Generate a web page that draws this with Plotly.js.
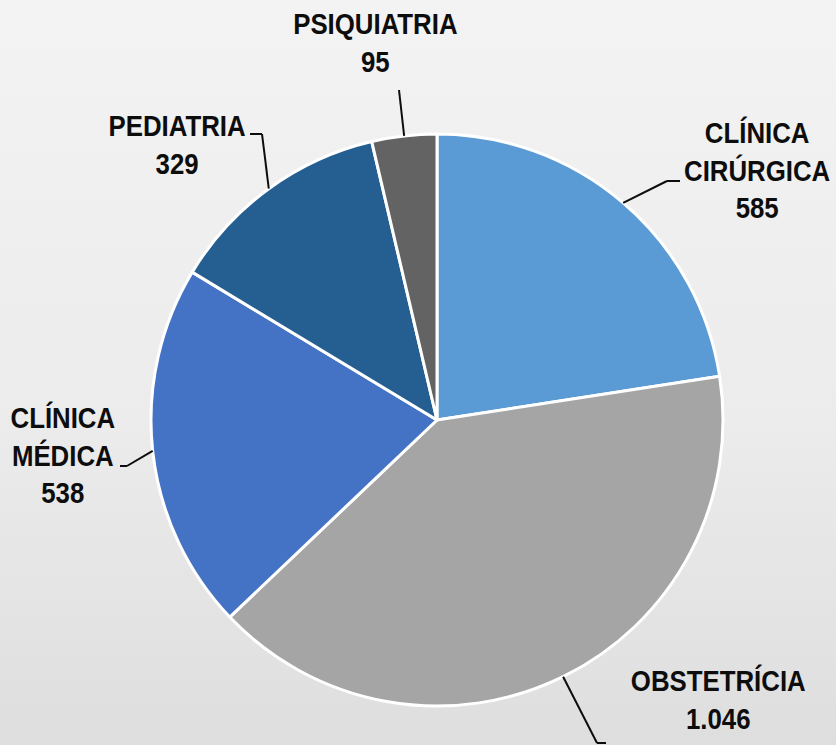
<!DOCTYPE html>
<html>
<head>
<meta charset="utf-8">
<script src="https://cdn.plot.ly/plotly-3.0.1.min.js"></script>
<style>
html,body{margin:0;padding:0;}
#chart{width:836px;height:745px;background:linear-gradient(to bottom,#f3f3f3 0%,#ececec 55%,#dedede 100%);}
</style>
</head>
<body>
<div id="chart"></div>
<script>
// Data
const categories = ["CLÍNICA CIRÚRGICA", "OBSTETRÍCIA", "CLÍNICA MÉDICA", "PEDIATRIA", "PSIQUIATRIA"];
const labelTexts = ["CLÍNICA<br>CIRÚRGICA<br>585", "OBSTETRÍCIA<br>1.046", "CLÍNICA<br>MÉDICA<br>538", "PEDIATRIA<br>329", "PSIQUIATRIA<br>95"];
const values = [585, 1046, 538, 329, 95];
const colors = ["#5B9BD5", "#A5A5A5", "#4472C4", "#255E91", "#636363"];

// Layout geometry (pixels)
const W = 836, H = 745;
const cx = 437, cy = 420, R = 286;
// label centre positions and leader elbows (layout, pixels)
const labelPos = [[757, 170], [718, 699], [63, 455], [177, 145], [375, 43]];
const elbows = [[[667, 181], [680, 181]], [[597, 743], [606, 743]], [[127, 466], [120, 466]], [[262, 134], [250, 134]], [[399, 90]]];
const condense = 0.89;

const px = x => x / W;
const py = y => 1 - y / H;

const total = values.reduce((a, b) => a + b, 0);
let cum = 0;
const shapes = [];
const annotations = [];
const font = {family: "Liberation Sans Narrow, Arial Narrow, Liberation Sans, Arial, sans-serif", size: 29, color: "#0d0d0d", weight: "bold"};
values.forEach((v, i) => {
  const mid = (cum + v / 2) / total * 2 * Math.PI;
  cum += v;
  const ex = cx + R * Math.sin(mid), ey = cy - R * Math.cos(mid);
  const pts = [[ex, ey]].concat(elbows[i]);
  for (let k = 0; k < pts.length - 1; k++) {
    shapes.push({type: "line", xref: "paper", yref: "paper",
      x0: px(pts[k][0]), y0: py(pts[k][1]), x1: px(pts[k + 1][0]), y1: py(pts[k + 1][1]),
      line: {color: "#0d0d0d", width: 2}});
  }
  annotations.push({xref: "paper", yref: "paper", x: px(labelPos[i][0]), y: py(labelPos[i][1]),
    xanchor: "center", yanchor: "middle", text: labelTexts[i], showarrow: false, align: "center", font: font});
});

const trace = {
  type: "pie",
  labels: categories,
  values: values,
  sort: false,
  direction: "clockwise",
  rotation: 0,
  textinfo: "none",
  hoverinfo: "label+value",
  marker: {colors: colors, line: {color: "#ffffff", width: 3}},
  domain: {x: [px(cx - R), px(cx + R)], y: [py(cy + R), py(cy - R)]},
  showlegend: false
};

const layout = {
  width: W, height: H,
  margin: {l: 0, r: 0, t: 0, b: 0},
  paper_bgcolor: "rgba(0,0,0,0)",
  plot_bgcolor: "rgba(0,0,0,0)",
  showlegend: false,
  shapes: shapes,
  annotations: annotations
};

Plotly.newPlot("chart", [trace], layout, {displayModeBar: false}).then(gd => {
  // horizontally condense label text to mimic a narrow bold face
  gd.querySelectorAll("text.annotation-text").forEach(t => {
    const b = t.getBBox();
    const mx = b.x + b.width / 2;
    t.setAttribute("transform", `translate(${mx},0) scale(${condense},1) translate(${-mx},0)`);
  });
});
</script>
</body>
</html>
